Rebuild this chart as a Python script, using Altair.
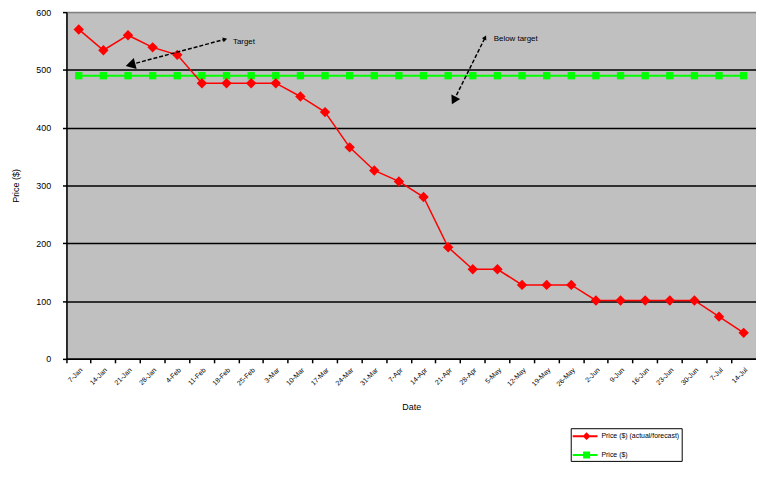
import altair as alt
import pandas as pd

categories = ["7-Jan", "14-Jan", "21-Jan", "28-Jan", "4-Feb", "11-Feb", "18-Feb",
              "25-Feb", "3-Mar", "10-Mar", "17-Mar", "24-Mar", "31-Mar", "7-Apr",
              "14-Apr", "21-Apr", "28-Apr", "5-May", "12-May", "19-May", "26-May",
              "2-Jun", "9-Jun", "16-Jun", "23-Jun", "30-Jun", "7-Jul", "14-Jul"]
actual_values = [570, 534, 560, 539, 526, 477, 477, 477, 477, 454, 427, 366, 326, 307,
                 280, 193, 155, 155, 128, 128, 128, 101, 101, 101, 101, 101, 73, 45]
target_values = [490, 490, 490, 490, 490, 490, 490, 490, 490, 490, 490, 490, 490, 490,
                 490, 490, 490, 490, 490, 490, 490, 490, 490, 490, 490, 490, 490, 490]
series_names = ["Price ($) (actual/forecast)", "Price ($)"]
series_colors = ["#FF0000", "#00FF00"]
y_ticks = [0, 100, 200, 300, 400, 500, 600]

annotation_labels = ["Target", "Below target"]
annotation_x = [6.76, 17.35]
annotation_y = [549, 553]
arrow1_x = [6.44, 2.6]
arrow1_y = [553, 509]
arrow2_x = [17.0, 15.73]
arrow2_y = [556, 447]

df_actual = pd.DataFrame({"cat": categories, "value": actual_values})
df_target = pd.DataFrame({"cat": categories, "value": target_values})
df_text = pd.DataFrame({"label": annotation_labels, "ax": annotation_x, "ay": annotation_y})
df_a1 = pd.DataFrame({"ax": arrow1_x, "ay": arrow1_y})
df_a2 = pd.DataFrame({"ax": arrow2_x, "ay": arrow2_y})
df_legend = pd.DataFrame({"series": series_names})

n = len(categories)
yscale = alt.Scale(domain=[0, 600], nice=False)
band = alt.Scale(type="band", domain=categories, paddingInner=0, paddingOuter=0)
qx = alt.Scale(domain=[0, n], nice=False, zero=False)

x_axis = alt.Axis(title="Date", bandPosition=0, labelAngle=315, labelFontSize=7,
                  labelPadding=3, tickSize=4, tickColor="black", tickWidth=1.5,
                  domainColor="black", domainWidth=1.5, titleFontSize=9,
                  titleFontWeight="normal", titlePadding=16, labelColor="black",
                  titleColor="black", grid=False)
y_axis = alt.Axis(title="Price ($)", values=y_ticks, labelFontSize=9, tickSize=4,
                  tickColor="black", tickWidth=1.5, domainColor="black", domainWidth=1.5,
                  grid=True,
                  gridColor={"condition": {"test": "datum.value === 600", "value": "#808080"},
                             "value": "black"},
                  gridWidth=1.5, labelPadding=12, labelColor="black",
                  titleFontSize=9, titleFontWeight="normal", titleColor="black",
                  titlePadding=15)

red_line = alt.Chart(df_actual).mark_line(color=series_colors[0], strokeWidth=1.5).encode(
    x=alt.X("cat:N", scale=band, sort=categories, axis=x_axis),
    y=alt.Y("value:Q", scale=yscale, axis=y_axis),
)
red_pts = alt.Chart(df_actual).mark_point(shape="diamond", filled=True, size=110,
                                          color=series_colors[0], opacity=1).encode(
    x=alt.X("cat:N", scale=band, sort=categories, axis=None),
    y=alt.Y("value:Q", scale=yscale),
)
green_line = alt.Chart(df_target).mark_line(color=series_colors[1], strokeWidth=2).encode(
    x=alt.X("cat:N", scale=band, sort=categories, axis=None),
    y=alt.Y("value:Q", scale=yscale),
)
green_pts = alt.Chart(df_target).mark_point(shape="square", filled=True, size=55,
                                            color=series_colors[1], opacity=1).encode(
    x=alt.X("cat:N", scale=band, sort=categories, axis=None),
    y=alt.Y("value:Q", scale=yscale),
)

def arrow_line(df):
    return alt.Chart(df).mark_line(color="black", strokeWidth=1.5, strokeDash=[4, 2]).encode(
        x=alt.X("ax:Q", scale=qx, axis=None),
        y=alt.Y("ay:Q", scale=yscale),
    )

def head(df, idx, angle, size):
    return alt.Chart(df.iloc[[idx]]).mark_point(shape="triangle-up", filled=True,
                                                 color="black", opacity=1, size=size,
                                                 angle=angle).encode(
        x=alt.X("ax:Q", scale=qx, axis=None),
        y=alt.Y("ay:Q", scale=yscale),
    )

texts = alt.Chart(df_text).mark_text(align="left", baseline="middle", fontSize=8,
                                     color="black").encode(
    x=alt.X("ax:Q", scale=qx, axis=None),
    y=alt.Y("ay:Q", scale=yscale),
    text="label:N",
)

path1 = "M-1,-0.17H3.17V0.17H-1Z M1.33,-0.67L2,0L1.33,0.67L0.67,0Z"
path2 = "M-1,-0.17H3.17V0.17H-1Z M0.75,-0.58H1.92V0.58H0.75Z"
legend_layer = alt.Chart(df_legend).transform_filter("false").mark_point(
    filled=True, opacity=1).encode(
    color=alt.Color("series:N", scale=alt.Scale(domain=series_names, range=series_colors),
                    legend=alt.Legend(title=None)),
    shape=alt.Shape("series:N", scale=alt.Scale(domain=series_names, range=[path1, path2]),
                    legend=alt.Legend(title=None)),
)

chart = alt.layer(
    green_line, green_pts, red_line, red_pts,
    arrow_line(df_a1), head(df_a1, 1, 255.5, 130), head(df_a1, 0, 75.5, 25),
    arrow_line(df_a2), head(df_a2, 1, 206.9, 100), head(df_a2, 0, 26.9, 25),
    texts, legend_layer,
).resolve_scale(x="independent").properties(
    width=696, height=350,
    autosize=alt.AutoSizeParams(type="none"),
    padding={"left": 59, "top": 2, "right": 0, "bottom": 106},
    view=alt.ViewBackground(fill="#C0C0C0", stroke="#808080", strokeWidth=1),
).configure(font="Liberation Sans").configure_view(
    fill="#C0C0C0", stroke="#808080", strokeWidth=1
).configure_legend(
    orient="none", legendX=509, legendY=420, padding=2, rowPadding=8,
    symbolSize=144, labelFontSize=7, labelOffset=17, labelColor="black",
    fillColor="white", strokeColor="black", symbolStrokeWidth=0,
)

chart.save("out.html", embed_options={"renderer": "svg", "actions": False})
